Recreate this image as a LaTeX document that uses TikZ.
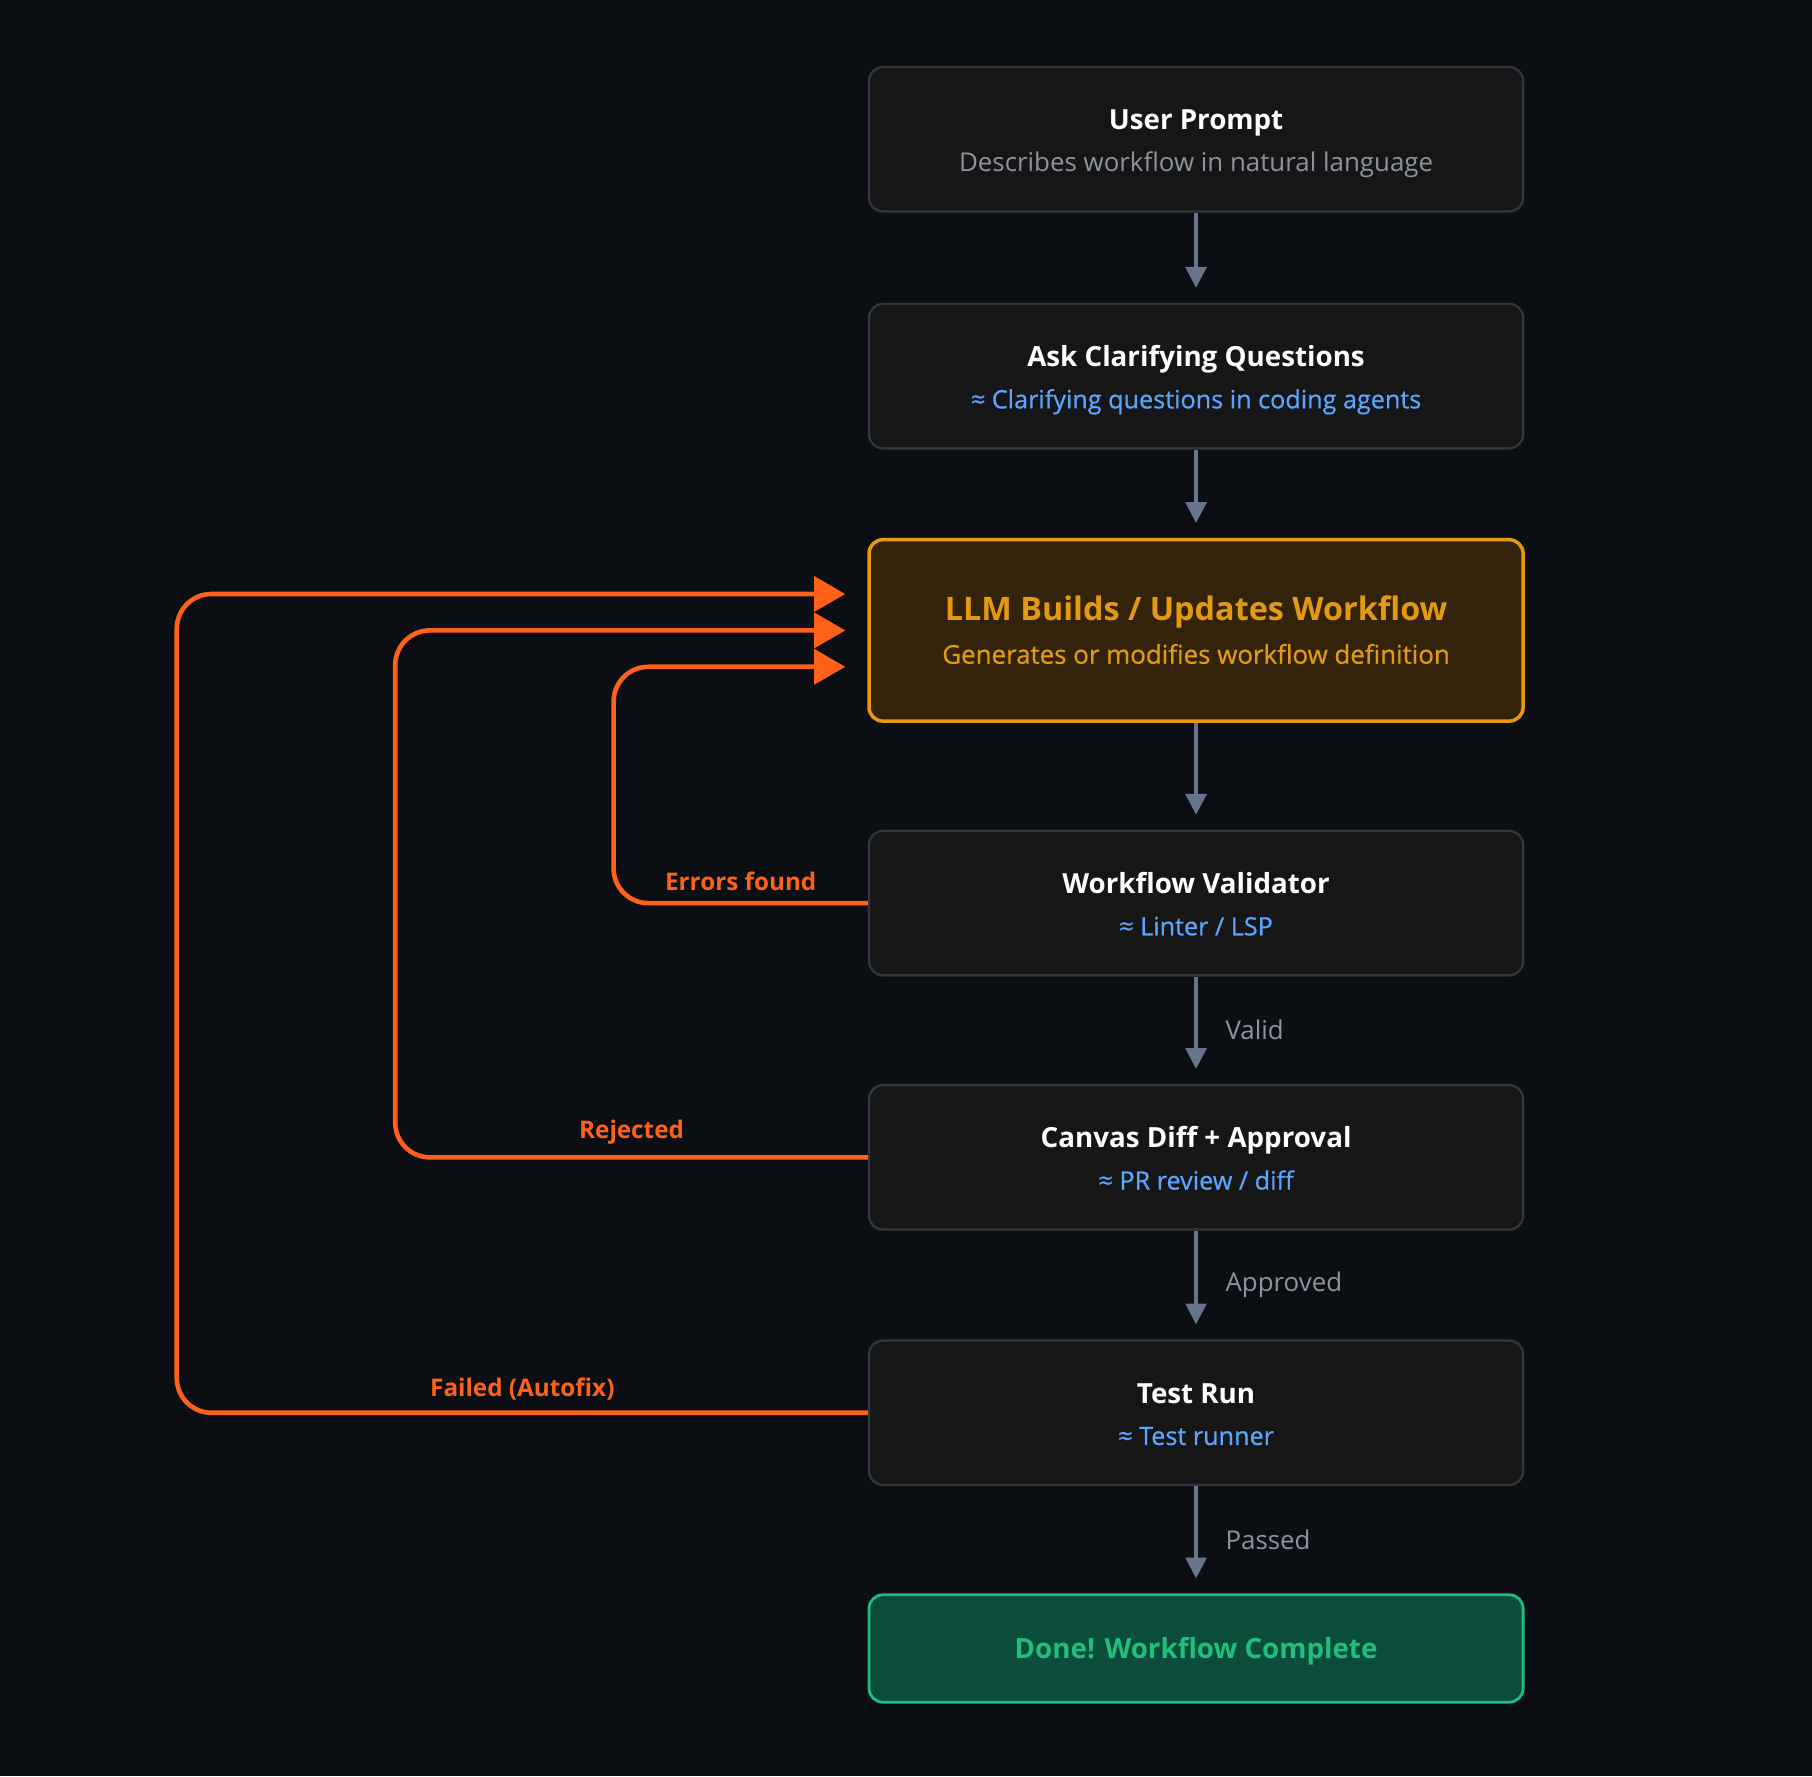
\documentclass[tikz,border=0pt]{standalone}
\usepackage{fontspec}
\setmainfont{Open Sans}
\newfontfamily\medfont{Open Sans}[FakeBold=0.6]
\usetikzlibrary{arrows.meta}
\definecolor{bg}{HTML}{0B0F13}
\definecolor{boxfill}{HTML}{161616}
\definecolor{boxline}{HTML}{30363D}
\definecolor{subgray}{HTML}{8B949E}
\definecolor{linkblue}{HTML}{58A6FF}
\definecolor{llmfill}{HTML}{33230A}
\definecolor{llmline}{HTML}{E89A0C}
\definecolor{llmtext}{HTML}{E39A12}
\definecolor{donefill}{HTML}{0B4D3B}
\definecolor{doneline}{HTML}{1FBE80}
\definecolor{donetext}{HTML}{1FBF7C}
\definecolor{flowgray}{HTML}{66758C}
\definecolor{loopor}{HTML}{FF6119}
\tikzset{
  box/.style={draw=boxline, fill=boxfill, line width=1pt, rounded corners=6pt,
    minimum width=283pt, minimum height=62.5pt, inner sep=0pt},
  llmbox/.style={box, draw=llmline, fill=llmfill, line width=1.5pt, minimum height=78.5pt},
  donebox/.style={box, draw=doneline, fill=donefill, line width=1.2pt, minimum height=46.5pt},
  ttl/.style={font=\bfseries\fontsize{12}{14}\selectfont, text=white, anchor=mid, inner sep=0pt},
  subt/.style={font=\fontsize{11.2}{13}\selectfont, text=subgray, anchor=mid, inner sep=0pt},
  subb/.style={subt, font=\medfont\fontsize{10.9}{13}\selectfont, text=linkblue},
  flow/.style={draw=flowgray, line width=1.5pt, -{Triangle[length=9pt,width=9pt]}, shorten >=6.5pt},
  fb/.style={draw=loopor, line width=2pt, rounded corners=15pt,
    -{Triangle[length=13.5pt,width=15pt]}, shorten >=9.5pt},
  elab/.style={font=\fontsize{11.2}{13}\selectfont, text=subgray, anchor=west, xshift=12pt, inner sep=0pt},
  flab/.style={font=\bfseries\fontsize{10.5}{12}\selectfont, text=loopor, anchor=south, yshift=4.5pt, inner sep=0pt}
}
\begin{document}
\begin{tikzpicture}[x=0.5pt,y=-0.5pt]
\useasboundingbox[fill=bg] (0,0) rectangle (1568,1537);

\node[box] (up) at (1035,120.5) {};
\node[box] (ask) at (1035,325.5) {};
\node[llmbox] (llm) at (1035,545.5) {};
\node[box] (val) at (1035,781.5) {};
\node[box] (diff) at (1035,1001.5) {};
\node[box] (test) at (1035,1222.5) {};
\node[donebox] (done) at (1035,1426.5) {};

\node[ttl] (upt) at ([yshift=6.75pt]up.center) {User Prompt};
\node[subt] (ups) at ([yshift=-11.25pt]up.center) {Describes workflow in natural language};
\node[ttl] (askt) at ([yshift=6.75pt]ask.center) {Ask Clarifying Questions};
\node[subb] (asks) at ([yshift=-11.25pt]ask.center) {≈ Clarifying questions in coding agents};
\node[ttl, text=llmtext, font=\bfseries\fontsize{14}{16}\selectfont] (llmt) at ([yshift=6.75pt]llm.center) {LLM Builds / Updates Workflow};
\node[subb, text=llmtext, font=\medfont\fontsize{11.2}{13}\selectfont] (llms) at ([yshift=-11.75pt]llm.center) {Generates or modifies workflow definition};
\node[ttl] (valt) at ([yshift=6.75pt]val.center) {Workflow Validator};
\node[subb] (vals) at ([yshift=-11.25pt]val.center) {≈ Linter / LSP};
\node[ttl] (difft) at ([yshift=6.75pt]diff.center) {Canvas Diff + Approval};
\node[subb] (diffs) at ([yshift=-11.25pt]diff.center) {≈ PR review / diff};
\node[ttl] (testt) at ([yshift=6.75pt]test.center) {Test Run};
\node[subb] (tests) at ([yshift=-11.25pt]test.center) {≈ Test runner};
\node[ttl, text=donetext] (donet) at ([yshift=-1.5pt]done.center) {Done! Workflow Complete};

\draw[flow] (up) -- (ask);
\draw[flow] (ask) -- (llm);
\draw[flow] (llm) -- (val);
\draw[flow] (val) -- node[elab] (lv) {Valid} (diff);
\draw[flow] (diff) -- node[elab] (la) {Approved} (test);
\draw[flow] (test) -- node[elab] (lp) {Passed} (done);

\coordinate (xe) at (531,0);
\coordinate (xr) at (342,0);
\coordinate (xf) at (153,0);
\coordinate (ein) at ([yshift=-15.75pt]llm.west);
\coordinate (rin) at (llm.west);
\coordinate (fin) at ([yshift=15.75pt]llm.west);

\draw[fb] (val.west) -- node[flab] (le) {Errors found} (val.west -| xe) -- (xe |- ein) -- (ein);
\draw[fb] (diff.west) -- node[flab] (lr) {Rejected} (diff.west -| xr) -- (xr |- rin) -- (rin);
\draw[fb] (test.west) -- node[flab] (lf) {Failed (Autofix)} (test.west -| xf) -- (xf |- fin) -- (fin);
\end{tikzpicture}
\end{document}
